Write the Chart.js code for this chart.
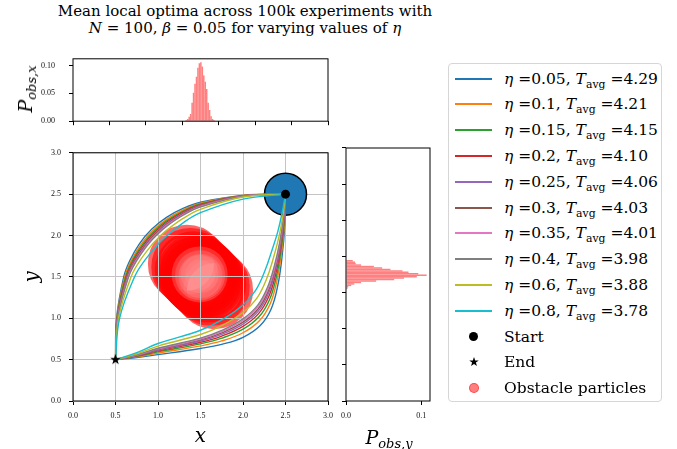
<!DOCTYPE html>
<html>
<head>
<meta charset="utf-8">
<script src="https://cdn.jsdelivr.net/npm/chart.js@4.4.1/dist/chart.umd.min.js"></script>
<style>
  body { margin: 0; background: #fff; }
  #fig { position: relative; width: 677px; height: 449px; overflow: hidden; font-family: 'DejaVu Serif', serif; color: #000; }
  canvas { position: absolute; }
  #cTop { left: 0; top: 40px; }
  #cMain { left: 0; top: 140px; }
  #cSide { left: 335px; top: 140px; }
  #title { position: absolute; left: 45px; width: 400px; top: 3px; text-align: center; font-size: 15px; line-height: 16.7px; }
  .plab { position: absolute; font-style: italic; font-size: 19px; white-space: nowrap; line-height: 20px; }
  .plab sub { font-size: 13px; vertical-align: -0.3em; line-height: 0; }
  #pxlab { left: 25px; top: 89px; transform: translate(-50%, -50%) rotate(-90deg); }
  #pylab { left: 389px; top: 437px; transform: translate(-50%, -50%); }
  #legend { position: absolute; left: 448px; top: 63px; width: 214px; height: 339px; box-sizing: border-box;
            border: 1px solid #d6d6d6; border-radius: 4px; background: #fff; }
  .row { position: absolute; left: 0; width: 100%; height: 26px; }
  .line { position: absolute; left: 6px; width: 37px; top: 12px; height: 1.5px; }
  .dot { position: absolute; border-radius: 50%; }
  .txt { position: absolute; left: 55px; top: 0; line-height: 26px; font-size: 15.5px; white-space: nowrap; }
  .txt sub { font-size: 0.7em; vertical-align: -0.35em; line-height: 0; font-style: normal; }
</style>
</head>
<body>
<div id="fig">
  <div id="title">Mean local optima across 100k experiments with<br><i>N</i> = 100, <i>β</i> = 0.05 for varying values of <i>η</i></div>
  <canvas id="cTop" width="340" height="100"></canvas>
  <canvas id="cMain" width="340" height="309"></canvas>
  <canvas id="cSide" width="110" height="309"></canvas>
  <div class="plab" id="pxlab">P<sub>obs,x</sub></div>
  <div class="plab" id="pylab">P<sub>obs,y</sub></div>
  <div id="legend"></div>
</div>
<script>
// ---- data ----
const etaValues = ['0.05', '0.1', '0.15', '0.2', '0.25', '0.3', '0.35', '0.4', '0.6', '0.8'];
const tAvg = ['4.29', '4.21', '4.15', '4.10', '4.06', '4.03', '4.01', '3.98', '3.88', '3.78'];
const colors = ['#1f77b4', '#ff7f0e', '#2ca02c', '#d62728', '#9467bd', '#8c564b', '#e377c2', '#7f7f7f', '#bcbd22', '#17becf'];

// mean paths above the obstacle (end -> start)
const upperPaths = [
  [[0.5,0.5],[0.5125,1.0],[0.597,1.5],[0.670,1.7],[0.781,1.9],[0.925,2.075],[1.1,2.219],[1.3,2.33],[1.5,2.403],[2.0,2.484],[2.5,2.5]],
  [[0.5,0.5],[0.515,1.0],[0.608,1.5],[0.687,1.7],[0.804,1.9],[0.939,2.061],[1.1,2.196],[1.3,2.313],[1.5,2.392],[2.0,2.485],[2.5,2.5]],
  [[0.5,0.5],[0.517,1.0],[0.618,1.5],[0.701,1.7],[0.823,1.9],[0.951,2.049],[1.1,2.177],[1.3,2.299],[1.5,2.382],[2.0,2.483],[2.5,2.5]],
  [[0.5,0.5],[0.52,1.0],[0.628,1.5],[0.714,1.7],[0.84,1.9],[0.961,2.039],[1.1,2.16],[1.3,2.286],[1.5,2.373],[2.0,2.481],[2.5,2.5]],
  [[0.5,0.5],[0.521,1.0],[0.635,1.5],[0.725,1.7],[0.854,1.9],[0.969,2.031],[1.1,2.146],[1.3,2.275],[1.5,2.365],[2.0,2.479],[2.5,2.5]],
  [[0.5,0.5],[0.523,1.0],[0.642,1.5],[0.734,1.7],[0.867,1.9],[0.976,2.024],[1.1,2.133],[1.3,2.266],[1.5,2.358],[2.0,2.477],[2.5,2.5]],
  [[0.5,0.5],[0.525,1.0],[0.648,1.5],[0.743,1.7],[0.878,1.9],[0.983,2.017],[1.1,2.123],[1.3,2.257],[1.5,2.352],[2.0,2.475],[2.5,2.5]],
  [[0.5,0.5],[0.527,1.0],[0.654,1.5],[0.752,1.7],[0.889,1.9],[0.989,2.011],[1.1,2.111],[1.3,2.248],[1.5,2.346],[2.0,2.474],[2.5,2.5]],
  [[0.5,0.5],[0.535,1.0],[0.683,1.5],[0.79,1.7],[0.938,1.9],[1.016,1.984],[1.1,2.062],[1.3,2.21],[1.5,2.317],[2.0,2.465],[2.5,2.5]],
  [[0.5,0.5],[0.548,1.0],[0.724,1.5],[0.844,1.7],[1.004,1.9],[1.051,1.949],[1.1,1.996],[1.3,2.156],[1.5,2.276],[2.0,2.44],[2.5,2.5]]
];

// mean paths below the obstacle (end -> start)
const lowerPaths = [
  [[0.5,0.5],[0.75,0.525],[1.0,0.56],[1.5,0.635],[1.75,0.685],[2.0,0.77],[2.2,0.91],[2.33,1.11],[2.41,1.4],[2.46,1.75],[2.49,2.1],[2.5,2.5]],
  [[0.5,0.5],[0.75,0.533],[1.0,0.579],[1.5,0.666],[1.75,0.726],[2.0,0.825],[2.193,0.97],[2.32,1.176],[2.4,1.459],[2.453,1.792],[2.487,2.128],[2.5,2.5]],
  [[0.5,0.5],[0.75,0.54],[1.0,0.594],[1.5,0.69],[1.75,0.759],[2.0,0.868],[2.188,1.018],[2.313,1.228],[2.393,1.505],[2.448,1.825],[2.484,2.15],[2.5,2.5]],
  [[0.5,0.5],[0.75,0.545],[1.0,0.606],[1.5,0.71],[1.75,0.785],[2.0,0.903],[2.183,1.056],[2.306,1.27],[2.386,1.543],[2.443,1.852],[2.482,2.168],[2.5,2.5]],
  [[0.5,0.5],[0.75,0.55],[1.0,0.615],[1.5,0.725],[1.75,0.806],[2.0,0.93],[2.18,1.086],[2.301,1.303],[2.381,1.572],[2.44,1.873],[2.48,2.182],[2.5,2.5]],
  [[0.5,0.5],[0.75,0.553],[1.0,0.624],[1.5,0.738],[1.75,0.824],[2.0,0.953],[2.177,1.112],[2.297,1.331],[2.377,1.597],[2.437,1.891],[2.478,2.194],[2.5,2.5]],
  [[0.5,0.5],[0.75,0.556],[1.0,0.63],[1.5,0.749],[1.75,0.838],[2.0,0.973],[2.174,1.134],[2.294,1.354],[2.374,1.618],[2.434,1.906],[2.477,2.204],[2.5,2.5]],
  [[0.5,0.5],[0.75,0.559],[1.0,0.637],[1.5,0.76],[1.75,0.853],[2.0,0.992],[2.172,1.155],[2.29,1.378],[2.37,1.639],[2.432,1.921],[2.476,2.214],[2.5,2.5]],
  [[0.5,0.5],[0.75,0.571],[1.0,0.664],[1.5,0.804],[1.75,0.912],[2.0,1.07],[2.162,1.241],[2.276,1.472],[2.356,1.723],[2.422,1.981],[2.471,2.254],[2.5,2.5]],
  [[0.5,0.5],[0.75,0.585],[1.0,0.695],[1.5,0.855],[1.75,0.98],[2.0,1.16],[2.15,1.34],[2.26,1.58],[2.34,1.82],[2.41,2.05],[2.465,2.3],[2.5,2.5]]
];

const startPoint = { x: 2.5, y: 2.5 };
const endPoint = { x: 0.5, y: 0.5 };

// obstacle particle positions (outer ones first, core ones last)
const obstacleX = [1.34, 1.66, 1.38, 1.62, 1.42, 1.58, 1.45, 1.55, 1.47, 1.53, 1.485, 1.515, 1.50, 1.49, 1.495, 1.50, 1.49, 1.495];
const obstacleY = [1.66, 1.34, 1.62, 1.38, 1.58, 1.42, 1.55, 1.45, 1.53, 1.47, 1.515, 1.485, 1.50, 1.53, 1.52, 1.51, 1.535, 1.525];
const coreCount = 5;

// marginal histograms of the particles
const histXBins = [1.305, 1.325, 1.345, 1.365, 1.385, 1.405, 1.425, 1.445, 1.465, 1.485, 1.505, 1.525, 1.545, 1.565, 1.585, 1.605, 1.625, 1.645, 1.665, 1.685];
const histXProb = [0.002, 0.004, 0.008, 0.013, 0.033, 0.051, 0.067, 0.080, 0.096, 0.104, 0.106, 0.098, 0.082, 0.071, 0.058, 0.033, 0.020, 0.009, 0.004, 0.002];
const histYBins = [1.31, 1.33, 1.35, 1.37, 1.39, 1.41, 1.43, 1.45, 1.47, 1.49, 1.51, 1.53, 1.55, 1.57, 1.59, 1.61, 1.63, 1.65, 1.67, 1.69];
const histYProb = [0.002, 0.003, 0.007, 0.011, 0.020, 0.040, 0.064, 0.077, 0.094, 0.107, 0.096, 0.083, 0.075, 0.059, 0.048, 0.037, 0.020, 0.013, 0.012, 0.009];

// ---- shared styling ----
Chart.defaults.font.family = 'Liberation Serif';
Chart.defaults.color = '#111';
const tickFont = { family: 'Liberation Serif', size: 8 };
const axisTitleFont = { family: 'DejaVu Serif', style: 'italic', size: 20 };

const framePlugin = {
  id: 'frame',
  afterDraw(chart) {
    const a = chart.chartArea, ctx = chart.ctx;
    ctx.save();
    ctx.strokeStyle = '#000';
    ctx.lineWidth = 1;
    ctx.strokeRect(a.left, a.top, a.right - a.left, a.bottom - a.top);
    ctx.restore();
  }
};

function makeStar(size) {
  const c = document.createElement('canvas');
  c.width = c.height = size;
  const g = c.getContext('2d');
  g.fillStyle = '#000';
  g.beginPath();
  for (let k = 0; k < 10; k++) {
    const r = k % 2 ? size * 0.2 : size / 2;
    const ang = -Math.PI / 2 + k * Math.PI / 5;
    g.lineTo(size / 2 + r * Math.cos(ang), size / 2 + r * Math.sin(ang));
  }
  g.closePath();
  g.fill();
  return c;
}

const baseOpts = {
  responsive: false,
  animation: false,
  events: [],
  plugins: { legend: { display: false }, tooltip: { enabled: false } }
};

// ---- main panel ----
const toPts = path => path.map(([x, y]) => ({ x, y }));
const curveSets = [];
etaValues.forEach((eta, i) => {
  [upperPaths[i], lowerPaths[i]].forEach(path => {
    curveSets.push({
      label: 'eta=' + eta,
      data: toPts(path),
      showLine: true,
      borderColor: colors[i],
      borderWidth: 1.4,
      pointRadius: 0,
      tension: 0.4,
      order: 20 - i
    });
  });
});

// outer particles: red rings; the last few core particles: pale filled discs
const isCore = k => k >= obstacleX.length - coreCount;
const coreRadius = [28, 25, 22, 19, 15];
const obstacleSet = {
  label: 'Obstacle particles',
  data: obstacleX.map((x, k) => ({ x, y: obstacleY[k] })),
  pointRadius: obstacleX.map((x, k) => isCore(k) ? coreRadius[k - (obstacleX.length - coreCount)] : 33),
  borderWidth: obstacleX.map((x, k) => isCore(k) ? 0 : 12),
  backgroundColor: obstacleX.map((x, k) => isCore(k) ? 'rgba(255,145,145,0.3)' : 'rgba(255,0,0,0.05)'),
  borderColor: 'rgba(255,0,0,0.6)',
  order: 40
};

// grid is drawn above the particles but below the paths
const gridOverObstacle = {
  id: 'gridOverObstacle',
  afterDatasetDraw(chart, args) {
    if (args.meta.label === 'Obstacle particles') {
      chart.scales.x.drawGrid(chart.chartArea);
      chart.scales.y.drawGrid(chart.chartArea);
    }
  }
};

new Chart(document.getElementById('cMain'), {
  type: 'scatter',
  data: {
    datasets: [
      obstacleSet,
      { label: 'goal', data: [startPoint], pointRadius: 21, backgroundColor: '#1f77b4', borderColor: '#000', borderWidth: 1.5, order: 30 },
      ...curveSets,
      { label: 'Start', data: [startPoint], pointRadius: 4.5, backgroundColor: '#000', borderWidth: 0, order: 1 },
      { label: 'End', data: [endPoint], pointStyle: makeStar(11), pointRadius: 5, order: 1 }
    ]
  },
  options: {
    ...baseOpts,
    layout: { autoPadding: false, padding: { left: 21, right: 12, top: 8, bottom: 0 } },
    scales: {
      x: {
        type: 'linear', min: 0, max: 3,
        afterFit: s => { s.height = 48; },
        ticks: { stepSize: 0.5, callback: v => v.toFixed(1), font: tickFont, color: '#111', padding: 6, maxRotation: 0 },
        grid: { color: '#c4c4c4', lineWidth: 1, tickColor: '#000', tickLength: 4 },
        border: { display: false },
        title: { display: true, text: 'x', font: axisTitleFont, color: '#000', padding: { top: 0, bottom: 0 } }
      },
      y: {
        type: 'linear', min: 0, max: 3,
        afterFit: s => { s.width = 52; },
        ticks: { stepSize: 0.5, callback: v => v.toFixed(1), font: tickFont, color: '#111', padding: 8 },
        grid: { color: '#c4c4c4', lineWidth: 1, tickColor: '#000', tickLength: 4 },
        border: { display: false },
        title: { display: true, text: 'y', font: axisTitleFont, color: '#000', padding: { top: 0, bottom: 0 } }
      }
    }
  },
  plugins: [framePlugin, gridOverObstacle]
});

// ---- top marginal histogram ----
new Chart(document.getElementById('cTop'), {
  type: 'bar',
  data: {
    datasets: [{
      data: histXBins.map((x, k) => ({ x, y: histXProb[k] })),
      backgroundColor: '#ff8080',
      borderWidth: 0,
      barPercentage: 1.05,
      categoryPercentage: 1
    }]
  },
  options: {
    ...baseOpts,
    layout: { autoPadding: false, padding: { left: 23, right: 12, top: 6, bottom: 2 } },
    scales: {
      x: {
        type: 'linear', min: 0, max: 3,
        afterFit: s => { s.height = 8; },
        ticks: { stepSize: 0.5, display: false },
        grid: { drawOnChartArea: false, tickColor: '#000', tickLength: 4 },
        border: { display: false }
      },
      y: {
        min: 0, max: 0.112,
        afterFit: s => { s.width = 50; },
        ticks: { stepSize: 0.05, includeBounds: false, callback: v => v.toFixed(2), font: tickFont, color: '#111', padding: 14 },
        grid: { drawOnChartArea: false, tickColor: '#000', tickLength: 4 },
        border: { display: false }
      }
    }
  },
  plugins: [framePlugin]
});

// ---- right marginal histogram ----
new Chart(document.getElementById('cSide'), {
  type: 'bar',
  data: {
    datasets: [{
      data: histYBins.map((y, k) => ({ x: histYProb[k], y })),
      backgroundColor: '#ff8080',
      borderWidth: 0,
      barPercentage: 1.05,
      categoryPercentage: 1
    }]
  },
  options: {
    ...baseOpts,
    indexAxis: 'y',
    layout: { autoPadding: false, padding: { left: 4, right: 15, top: 8, bottom: 8 } },
    scales: {
      x: {
        type: 'linear', min: 0, max: 0.1115,
        afterFit: s => { s.height = 40; },
        ticks: { stepSize: 0.1, includeBounds: false, callback: v => v.toFixed(1), font: tickFont, color: '#111', padding: 6, maxRotation: 0 },
        grid: { drawOnChartArea: false, tickColor: '#000', tickLength: 4 },
        border: { display: false }
      },
      y: {
        type: 'linear', min: 0, max: 3,
        afterFit: s => { s.width = 6; },
        ticks: { stepSize: 0.5, display: false },
        grid: { drawOnChartArea: false, tickColor: '#000', tickLength: 4 },
        border: { display: false }
      }
    }
  },
  plugins: [framePlugin]
});

// ---- legend ----
const legend = document.getElementById('legend');
const rowH = 25.8;
function addRow(i, marker, html) {
  const row = document.createElement('div');
  row.className = 'row';
  row.style.top = Math.round(1.5 + rowH * i) + 'px';
  row.appendChild(marker);
  const t = document.createElement('span');
  t.className = 'txt';
  t.innerHTML = html;
  row.appendChild(t);
  legend.appendChild(row);
}
etaValues.forEach((eta, i) => {
  const ln = document.createElement('div');
  ln.className = 'line';
  ln.style.background = colors[i];
  addRow(i, ln, '<i>η</i> =' + eta + ', <i>T</i><sub>avg</sub> =' + tAvg[i]);
});
const startDot = document.createElement('div');
startDot.className = 'dot';
Object.assign(startDot.style, { left: '20px', top: '8px', width: '9px', height: '9px', background: '#000' });
addRow(etaValues.length, startDot, 'Start');
const star = makeStar(10);
Object.assign(star.style, { position: 'absolute', left: '19.5px', top: '8px' });
addRow(etaValues.length + 1, star, 'End');
const obsDot = document.createElement('div');
obsDot.className = 'dot';
Object.assign(obsDot.style, { left: '19.5px', top: '8px', width: '8px', height: '8px', background: 'rgba(255,0,0,0.5)', border: '1px solid rgba(255,0,0,0.45)' });
addRow(etaValues.length + 2, obsDot, 'Obstacle particles');
</script>
</body>
</html>
